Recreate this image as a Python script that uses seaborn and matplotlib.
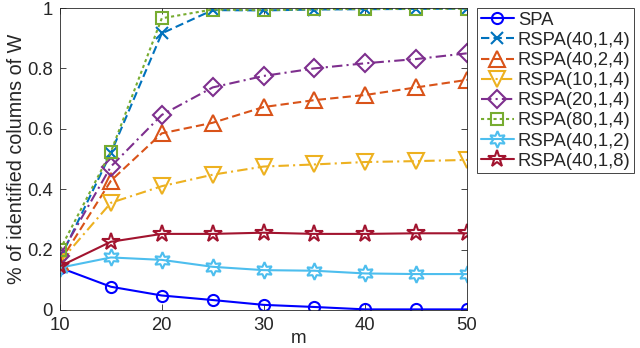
import numpy as np
import pandas as pd
import seaborn as sns
import matplotlib
matplotlib.use("Agg")
import matplotlib.pyplot as plt

# Valores
m = [10, 15, 20, 25, 30, 35, 40, 45, 50]
spa = [0.14, 0.077, 0.048, 0.033, 0.017, 0.010, 0.002, 0.002, 0.002]
rspa_40_1_4 = [0.17, 0.52, 0.916, 0.993, 0.992, 0.995, 0.996, 0.997, 0.998]
rspa_40_2_4 = [0.16, 0.428, 0.585, 0.62, 0.672, 0.695, 0.712, 0.737, 0.762]
rspa_10_1_4 = [0.16, 0.355, 0.41, 0.448, 0.475, 0.482, 0.49, 0.493, 0.497]
rspa_20_1_4 = [0.18, 0.475, 0.646, 0.737, 0.775, 0.8, 0.817, 0.831, 0.85]
rspa_80_1_4 = [0.20, 0.524, 0.966, 0.995, 0.993, 0.996, 0.997, 0.997, 0.998]
rspa_40_1_2 = [0.14, 0.174, 0.166, 0.143, 0.132, 0.130, 0.121, 0.119, 0.119]
rspa_40_1_8 = [0.145, 0.226, 0.252, 0.252, 0.256, 0.252, 0.252, 0.254, 0.254]

nomes = ["SPA", "RSPA(40,1,4)", "RSPA(40,2,4)", "RSPA(10,1,4)",
         "RSPA(20,1,4)", "RSPA(80,1,4)", "RSPA(40,1,2)", "RSPA(40,1,8)"]
series = [spa, rspa_40_1_4, rspa_40_2_4, rspa_10_1_4,
          rspa_20_1_4, rspa_80_1_4, rspa_40_1_2, rspa_40_1_8]

cores = ["#0000FF", "#0072BD", "#D95319", "#EDB120",
         "#7E2F8E", "#77AC30", "#4DBEEE", "#A2142F"]
marcadores = ["o", "x", "^", "v", "D", "s", (6, 1, 0), "*"]
estilos = ["-", (0, (4, 2)), (0, (4, 2)), (0, (5, 2, 1, 2)),
           (0, (5, 2, 1, 2)), (0, (1.5, 1.5)), "-", "-"]
tamanhos = [8, 9, 12, 12, 9, 9, 12, 13]

sns.set_style("ticks")
plt.rcParams["font.family"] = ["Liberation Sans", "DejaVu Sans"]

fig = plt.figure(figsize=(6.4, 3.48), dpi=100)
ax = fig.add_axes([0.0938, 0.1092, 0.636, 0.8678])

for nome, valores, cor, mk, ls, ms in zip(nomes, series, cores, marcadores, estilos, tamanhos):
    sns.lineplot(x=m, y=valores, ax=ax, color=cor, marker=mk, linestyle=ls,
                 linewidth=1.5, markersize=ms, markerfacecolor="none",
                 markeredgecolor=cor, markeredgewidth=1.5, label=nome)

ax.set_xlim(10, 50)
ax.set_ylim(0, 1)
ax.set_xticks([10, 20, 30, 40, 50])
ax.set_yticks([0, 0.2, 0.4, 0.6, 0.8, 1])
ax.set_yticklabels(["0", "0.2", "0.4", "0.6", "0.8", "1"])
ax.tick_params(direction="in", length=4, width=0.6, labelsize=13.3, colors="#262626",
               top=True, right=True, pad=5)
for s in ax.spines.values():
    s.set_visible(True)
    s.set_color("#262626")
    s.set_linewidth(0.6)
ax.set_xlabel("m", fontsize=13.5, color="#262626")
ax.xaxis.set_label_coords(0.585, -0.066)
ax.set_ylabel("% of identified columns of W", fontsize=14.2, color="#262626")
ax.yaxis.set_label_coords(-0.083, 0.5)

leg = ax.legend(loc="upper left", bbox_to_anchor=(1.0246, 1.0), borderaxespad=0,
                fontsize=13.3, handlelength=1.8, handletextpad=0.2, labelspacing=0.17,
                borderpad=0.2, fancybox=False, framealpha=1, edgecolor="#262626")
leg.get_frame().set_linewidth(0.6)

fig.savefig("out.png", dpi=100)
